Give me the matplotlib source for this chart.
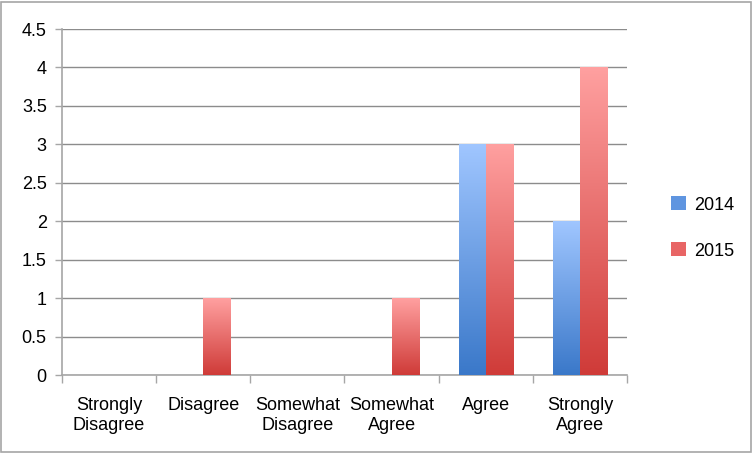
import matplotlib
matplotlib.use("Agg")
import matplotlib.pyplot as plt
from matplotlib.patches import Rectangle, Patch
from matplotlib.colors import LinearSegmentedColormap
import numpy as np

plt.rcParams["font.family"] = ["Liberation Sans", "DejaVu Sans"]

categories = ["Strongly\nDisagree", "Disagree", "Somewhat\nDisagree",
              "Somewhat\nAgree", "Agree", "Strongly\nAgree"]
years = ["2014", "2015"]
vals_2014 = [0, 0, 0, 0, 3, 2]
vals_2015 = [0, 1, 0, 1, 3, 4]
yticks = [0, 0.5, 1, 1.5, 2, 2.5, 3, 3.5, 4, 4.5]

# gradient colours (top, bottom)
BLUE = ("#a0c6ff", "#3a78c9")
RED = ("#ffa0a0", "#cf3b38")
C_AX = "#a6a6a6"
C_GRID = "#8c8c8c"

W, H = 753, 453
fig = plt.figure(figsize=(W / 100, H / 100), dpi=100)
ax = fig.add_axes([62 / W, 1 - 375 / H, (627 - 62) / W, (375 - 29) / H])

x = np.arange(len(categories))
bw = 0.2875
grad = np.linspace(1, 0, 256).reshape(-1, 1)


def gradient_bars(xs, vals, cols):
    bars = ax.bar(xs, vals, width=bw, color=cols[1], linewidth=0, zorder=2)
    cmap = LinearSegmentedColormap.from_list("g", [cols[1], cols[0]])
    for b in bars:
        h = b.get_height()
        if h <= 0:
            b.set_visible(False)
            continue
        x0 = b.get_x()
        # each bar gets its own light-top / dark-bottom fill
        ax.imshow(grad, cmap=cmap, aspect="auto", zorder=3,
                  extent=(x0, x0 + b.get_width(), 0, h),
                  vmin=0, vmax=1, interpolation="bilinear")
    return bars


gradient_bars(x - bw / 2, vals_2014, BLUE)
gradient_bars(x + bw / 2, vals_2015, RED)

ax.set_xlim(-0.5, len(categories) - 0.5)
ax.set_ylim(0, 4.5)
ax.set_yticks(yticks)
ax.set_yticklabels([f"{t:g}" for t in yticks])
ax.yaxis.grid(True, color=C_GRID, lw=1.0, zorder=1)
ax.set_axisbelow(True)

ax.set_xticks(x)
ax.set_xticklabels(categories, fontsize=13, linespacing=1.25)
ax.set_xticks(np.arange(len(categories) + 1) - 0.5, minor=True)
ax.tick_params(axis="x", which="major", length=0, pad=16)
ax.tick_params(axis="x", which="minor", length=6, color=C_AX, width=1)
ax.tick_params(axis="y", length=5, color=C_AX, width=1, labelsize=13, pad=6)

for s in ["top", "right"]:
    ax.spines[s].set_visible(False)
for s in ["left", "bottom"]:
    ax.spines[s].set_color(C_AX)
    ax.spines[s].set_linewidth(1.2)

handles = [Patch(facecolor="#5f95e0", label=years[0]),
           Patch(facecolor="#e86565", label=years[1])]
leg = fig.legend(handles=handles, loc="center left",
                 bbox_to_anchor=(655 / W, 1 - 228 / H), frameon=False,
                 fontsize=13, handlelength=0.8, handleheight=0.8,
                 handletextpad=0.45, labelspacing=1.6)

fig.patches.append(Rectangle((1 / W, 1 / H), (W - 3) / W, (H - 3) / H,
                             transform=fig.transFigure, fill=False,
                             edgecolor="#a6a6a6", lw=1.2))

fig.savefig("out.png", dpi=100, facecolor="white")
